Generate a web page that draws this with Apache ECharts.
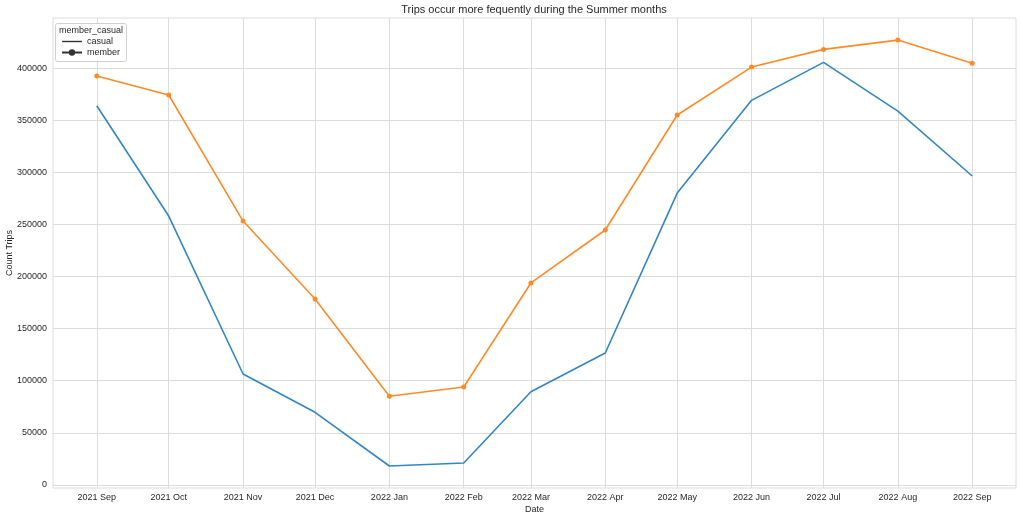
<!DOCTYPE html>
<html>
<head>
<meta charset="utf-8">
<script src="https://cdn.jsdelivr.net/npm/echarts@6/dist/echarts.min.js"></script>
<style>html,body{margin:0;padding:0;background:#fff}#c{width:1022px;height:519px}</style>
</head>
<body>
<div id="c"></div>
<script>
const monthYears = [2021,2021,2021,2021,2022,2022,2022,2022,2022,2022,2022,2022,2022];
const monthIdx   = [8,9,10,11,0,1,2,3,4,5,6,7,8];
const monthNames = ['Jan','Feb','Mar','Apr','May','Jun','Jul','Aug','Sep','Oct','Nov','Dec'];
const casual = [363800,258000,106500,69700,18200,21100,89500,126600,280000,369000,405400,358700,296400];
const member = [392300,374100,253200,178400,85100,94000,193800,244600,354900,400900,417900,426800,404500];
const yTicks = [0,50000,100000,150000,200000,250000,300000,350000,400000];

const DAY = 86400000;
// x positions in days since first month (derived from calendar dates)
const dates = monthYears.map((y,i)=>Math.round((Date.UTC(y, monthIdx[i], 1) - Date.UTC(monthYears[0], monthIdx[0], 1))/DAY));
const span = dates[dates.length-1]-dates[0];
const xMin = dates[0] - span*0.05;
const xMax = dates[dates.length-1] + span*0.05;
const yMin = -2900, yMax = 448000;

function labelFor(v){
  const i = dates.indexOf(Math.round(v));
  return i>=0 ? monthYears[i]+' '+monthNames[monthIdx[i]] : '';
}

const txt = '#262626';
const gridC = '#dcdcdc';
const fontF = '"Liberation Sans", Arial, sans-serif';

const chart = echarts.init(document.getElementById('c'), null, {renderer:'canvas'});
chart.setOption({
  animation:false,
  backgroundColor:'#fff',
  title:{text:'Trips occur more fequently during the Summer months', left:534, textAlign:'center', top:4, padding:0,
    textStyle:{fontSize:11, fontWeight:'normal', color:txt, fontFamily:fontF}},
  grid:{left:53, right:6, top:18, bottom:31, show:true, borderColor:gridC, borderWidth:1,
    containLabel:false, outerBoundsMode:'none'},
  xAxis:{type:'value', min:xMin, max:xMax, name:'Date', nameLocation:'middle', nameGap:17, nameMoveOverlap:false,
    nameTextStyle:{fontSize:9, color:txt, fontFamily:fontF},
    axisLine:{show:false}, axisTick:{show:false, customValues:dates},
    axisLabel:{customValues:dates, fontSize:9, color:txt, fontFamily:fontF, margin:5, formatter:labelFor},
    splitLine:{show:true, lineStyle:{color:gridC, width:1}}},
  yAxis:{type:'value', min:yMin, max:yMax, name:'Count Trips', nameLocation:'middle', nameGap:39, nameMoveOverlap:false,
    nameTextStyle:{fontSize:9, color:txt, fontFamily:fontF},
    axisLine:{show:false}, axisTick:{show:false, customValues:yTicks},
    axisLabel:{customValues:yTicks, fontSize:9, color:txt, fontFamily:fontF, margin:6, formatter:function(v){return String(v);}},
    splitLine:{show:true, lineStyle:{color:gridC, width:1}}},
  legend:{orient:'vertical', left:61, top:37, padding:0, itemWidth:20, itemHeight:8, itemGap:2,
    textStyle:{fontSize:9, color:txt, fontFamily:fontF},
    data:[
      {name:'casual', icon:'path://M0,3.3 L20,3.3 L20,4.7 L0,4.7 Z', itemStyle:{color:'#333'}},
      {name:'member', itemStyle:{color:'#333'}, lineStyle:{color:'#333'}}
    ]},
  graphic:[
    {type:'rect', left:55, top:23, shape:{width:71, height:38, r:2}, style:{fill:'rgba(255,255,255,0.8)', stroke:'#d0d0d0', lineWidth:1}, z:1},
    {type:'text', left:59, top:26, style:{text:'member_casual', fontSize:9, fill:txt, fontFamily:fontF}, z:2}
  ],
  series:[
    {name:'casual', type:'line', data:dates.map((d,i)=>[d,casual[i]]), symbol:'none',
      lineStyle:{color:'#3286c3', width:1.6}, itemStyle:{color:'#3286c3'}},
    {name:'member', type:'line', data:dates.map((d,i)=>[d,member[i]]), symbol:'circle', symbolSize:5,
      lineStyle:{color:'#ff8a26', width:1.6}, itemStyle:{color:'#ff8a26'}}
  ]
});
</script>
</body>
</html>
